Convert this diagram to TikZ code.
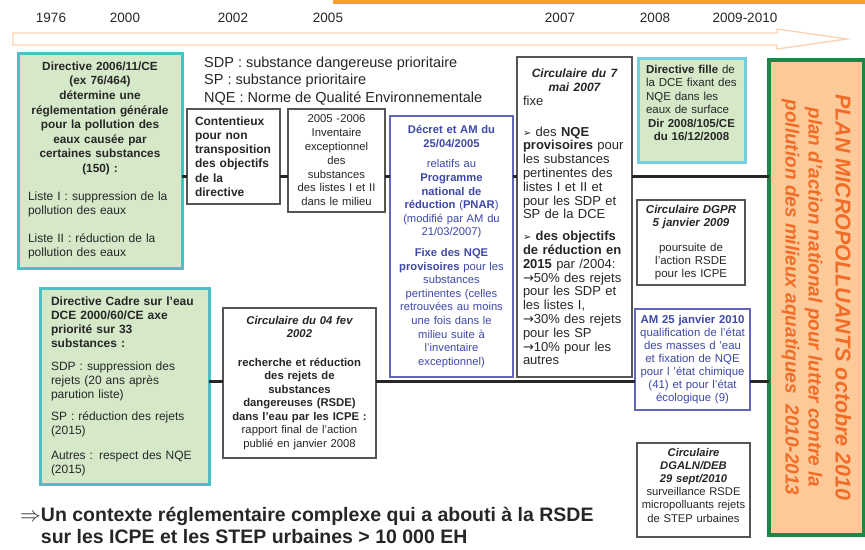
\documentclass[tikz,border=0pt]{standalone}
\usepackage{fontspec}
\setmainfont{Liberation Sans}
\newfontfamily\symfont{DejaVu Sans}
\hyphenpenalty=10000
\exhyphenpenalty=10000

\definecolor{tealedge}{RGB}{75,192,197}
\definecolor{cyanedge}{RGB}{115,206,224}
\definecolor{leaf}{RGB}{213,233,201}
\definecolor{navy}{RGB}{62,72,168}
\definecolor{navyedge}{RGB}{96,102,184}
\definecolor{greyedge}{RGB}{85,85,85}
\definecolor{peach}{RGB}{252,202,152}
\definecolor{planedge}{RGB}{28,134,70}
\definecolor{planink}{RGB}{242,108,40}
\definecolor{arrowedge}{RGB}{251,210,176}
\definecolor{topbar}{RGB}{247,160,40}
\definecolor{ink}{RGB}{38,38,38}

\newcommand{\setfs}[2]{\fontsize{#1}{#2}\selectfont}

\begin{document}
\begin{tikzpicture}[
    x = 1pt,
    y = -1pt,
    box/.style = {rectangle, draw=greyedge, line width=1.1pt, fill=white,
    text=ink, inner sep=0pt, outer sep=0pt},
    greenbox/.style = {box, draw=tealedge, line width=3pt, fill=leaf},
    bluebox/.style = {box, draw=navyedge, text=navy},
    timeline/.style = {line width=3pt, draw=ink},
    year/.style = {text=ink, font=\setfs{13.5}{16}, inner sep=0pt},
]
\useasboundingbox (0,0) rectangle (865,549);

\fill [topbar] (333,0) rectangle (865,3.5);
\foreach \xpos/\yr [count=\i] in {51/1976, 125/2000, 233/2002, 328/2005, 560/2007, 655/2008, 745/2009-2010}
    \node[year] (year_\i) at (\xpos,18) {\yr};
\draw [line width=1.3pt, draw=arrowedge, fill=white] (13,33) -- (777,33) -- (777,29)
    -- (847,39) -- (777,49) -- (777,45) -- (13,45) -- cycle;

\node[text=ink, font=\setfs{14.5}{17.5}, align=left, inner sep=0pt, anchor=west] (legend) at (204,81)
    {SDP : substance dangereuse prioritaire\\SP : substance prioritaire\\NQE : Norme de Qualité Environnementale};

\node[greenbox, minimum width=164pt, minimum height=215pt, text width=144pt, align=left,
    font=\setfs{12}{14.6}] (box_dir76) at (100,160.5)
    {{\centering\bfseries\setfs{11.8}{14.6}Directive 2006/11/CE\\(ex 76/464)\\détermine une\\réglementation générale\\pour la pollution des\\eaux causée par\\certaines substances\\(150) :\par}
    \vspace{13pt}
    Liste I : suppression de la\\pollution des eaux\par
    \vspace{13pt}
    Liste II : réduction de la\\pollution des eaux};
\node[greenbox, minimum width=169pt, minimum height=196pt, text width=147pt, align=left,
    font=\setfs{12}{14}] (box_dce) at (124.5,386)
    {\textbf{Directive Cadre sur l’eau\\DCE 2000/60/CE axe\\priorité sur 33\\substances :}\par
    \vspace{9pt}
    SDP : suppression des\\rejets (20 ans après\\parution liste)\par
    \vspace{8pt}
    SP : réduction des rejets\\(2015)\par
    \vspace{11pt}
    Autres : respect des NQE\\(2015)};
\node[box, minimum width=93pt, minimum height=95pt, text width=77pt, align=left,
    font=\bfseries\setfs{12}{14.2}] (box_cont) at (233.5,156.5)
    {Contentieux\\pour non\\transposition\\des objectifs\\de la\\directive};
\node[box, minimum width=97pt, minimum height=103pt, text width=91pt, align=center,
    font=\setfs{11.3}{13.8}] (box_inv) at (336.5,160.5)
    {2005 -2006\\Inventaire\\exceptionnel\\des\\substances\\des listes I et II\\dans le milieu};
\node[bluebox, minimum width=123pt, minimum height=261pt, text width=117pt, align=center,
    font=\setfs{11.2}{13.6}] (box_pnar) at (451.5,246.5)
    {\textbf{Décret et AM du\\25/04/2005}\\[7pt]
    relatifs au\\\textbf{Programme\\national de\\réduction} (\textbf{PNAR})\\(modifié par AM du\\21/03/2007)\\[7pt]
    \textbf{Fixe des NQE\\provisoires} pour les\\substances\\pertinentes (celles\\retrouvées au moins\\une fois dans le\\milieu suite à\\l’inventaire\\exceptionnel)};
\node[box, minimum width=115pt, minimum height=320pt, text width=103pt, align=left,
    font=\setfs{13}{13.8}] (box_circ07) at (574.5,217)
    {{\centering\bfseries\itshape\setfs{12}{13.8}Circulaire du 7\\mai 2007\par}
    fixe\par
    \vspace{17pt}
    {\symfont\fontsize{10}{13.8}\selectfont ➢} des \textbf{NQE}\\\textbf{provisoires} pour\\les substances\\pertinentes des\\listes I et II et\\pour les SDP et\\SP de la DCE\par
    \vspace{8pt}
    {\symfont\fontsize{10}{13.8}\selectfont ➢} \textbf{des objectifs\\de réduction en\\2015} par /2004:\\{\symfont →}50\% des rejets\\pour les SDP et\\les listes I,\\{\symfont →}30\% des rejets\\pour les SP\\{\symfont →}10\% pour les\\autres};
\node[greenbox, draw=cyanedge, minimum width=107pt, minimum height=104pt, text width=91pt, align=left,
    font=\setfs{11.5}{13.5}] (box_fille) at (691.5,110)
    {\textbf{Directive fille} de\\la DCE fixant des\\NQE dans les\\eaux de surface\par
    {\centering\bfseries Dir 2008/105/CE\\du 16/12/2008\par}
    \vspace{14pt}};
\node[box, minimum width=108pt, minimum height=85pt, text width=100pt, align=center,
    font=\setfs{11.5}{13}] (box_dgpr) at (691,242.5)
    {\textbf{\textit{Circulaire DGPR\\5 janvier 2009}}\\[12pt]poursuite de\\l'action RSDE\\pour les ICPE};
\node[bluebox, minimum width=115pt, minimum height=101pt, text width=109pt, align=center,
    font=\setfs{11.4}{12.9}] (box_am10) at (692.5,359.5)
    {\textbf{AM 25 janvier 2010}\\qualification de l’état\\des masses d ’eau\\et fixation de NQE\\pour l ’état chimique\\(41) et pour l’état\\écologique (9)};
\node[box, minimum width=113pt, minimum height=94pt, text width=107pt, align=center,
    font=\setfs{11.2}{13.2}] (box_dgaln) at (693.5,490)
    {\textbf{\textit{Circulaire\\DGALN/DEB\\29 sept/2010}}\\surveillance RSDE\\micropolluants rejets\\de STEP urbaines\par
    \vspace{10pt}};
\node[box, minimum width=153pt, minimum height=150pt, text width=145pt, align=center,
    font=\setfs{11.3}{13.5}] (box_rsde) at (299.5,383)
    {\textbf{\textit{Circulaire du 04 fev\\2002}}\\[15pt]
    \textbf{recherche et réduction\\des rejets de\\substances\\dangereuses (RSDE)\\dans l’eau par les ICPE :}\\rapport final de l'action\\publié en janvier 2008};

\node[box, draw=planedge, line width=3.5pt, fill=peach, minimum width=95pt,
    minimum height=475pt] (box_plan) at (816.5,297.5) {};
\node[rotate=-90, text=planink, font=\bfseries\itshape\setfs{19}{23}, align=center,
    inner sep=0pt] (plan_text) at (box_plan.center)
    {{\setfs{21.5}{23}PLAN MICROPOLLUANTS octobre 2010}\\[4pt]
    plan d’action national pour lutter contre la\\pollution des milieux aquatiques~~2010-2013};

\coordinate (upper) at (0,176);
\coordinate (lower) at (0,381);
\foreach \a/\b in {box_dir76/box_cont, box_cont/box_inv, box_inv/box_pnar, box_pnar/box_circ07, box_circ07/box_plan}
    \draw [timeline] (\a.east |- upper) -- (\b.west |- upper);
\foreach \a/\b in {box_dce/box_rsde, box_rsde/box_am10, box_am10/box_plan}
    \draw [timeline] (\a.east |- lower) -- (\b.west |- lower);

\node[text=ink, font=\bfseries\setfs{19.5}{22}, align=left, inner sep=0pt, anchor=west] (conclusion) at (20,525)
    {$\Rightarrow$Un contexte réglementaire complexe qui a abouti à la RSDE\\\hphantom{$\Rightarrow$}sur les ICPE et les STEP urbaines > 10 000 EH};

\end{tikzpicture}
\end{document}
